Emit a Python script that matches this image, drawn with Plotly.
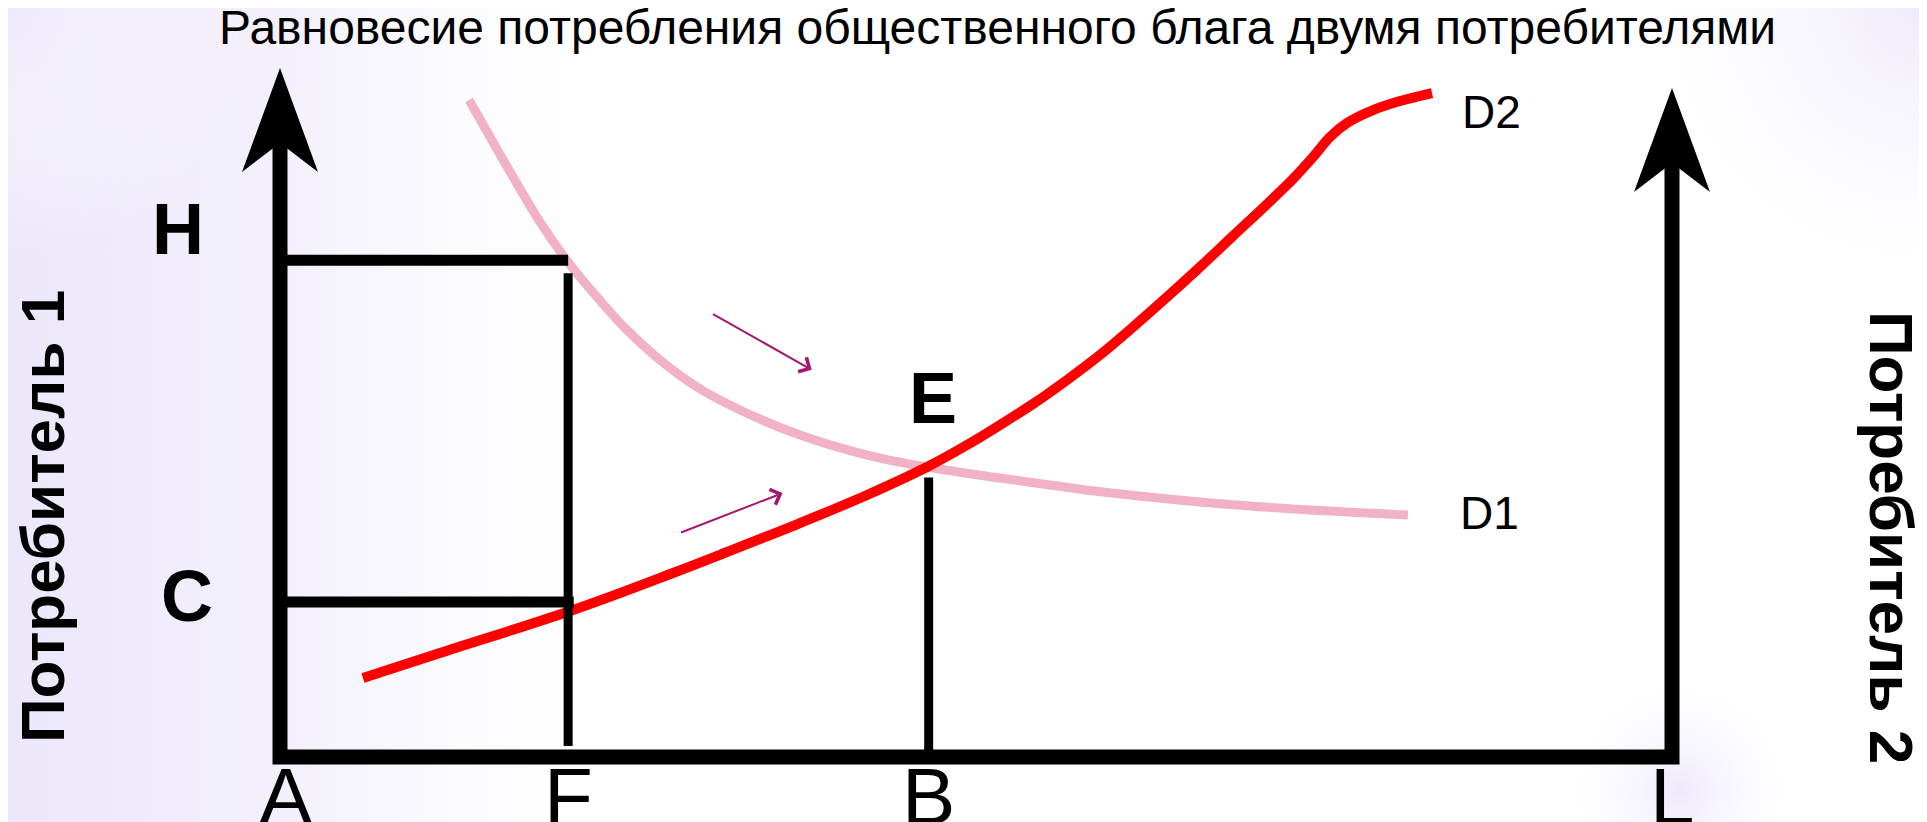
"""
Equilibrium of public good consumption by two consumers (Plotly sketch)
"""

import plotly.graph_objects as go

# --- data (units: quantity 0..100 from A to L, utility 0..100 up the left axis)
X_NAMES = ["A", "F", "B", "L"]
X_VALUES = [0, 20.7, 46.6, 100]

LEVEL_NAMES = ["H", "C"]
LEVEL_VALUES = [72.1, 22.5]

LEFT_AXIS_TOP = 100.0
RIGHT_AXIS_TOP = 97.1

# D1 - decreasing (pink), D2 - increasing (red)
D1_X = [13.58, 15.09, 16.74, 18.68, 20.69, 22.77, 24.93, 27.30, 29.96, 33.05, 37.36,
        42.17, 46.48, 51.72, 55.32, 59.12, 68.68, 81.03]
D1_Y = [95.36, 89.99, 84.18, 77.65, 71.84, 66.76, 61.97, 57.62, 53.70, 50.36, 46.73,
        43.83, 42.09, 40.49, 39.48, 38.46, 36.57, 35.12]

D2_X = [5.96, 11.49, 21.05, 28.23, 32.11, 37.36, 42.17, 46.48, 49.35, 51.72, 54.09,
        56.54, 58.91, 61.28, 63.72, 66.09, 68.46, 70.91, 72.77, 74.21, 75.43, 76.65,
        78.52, 80.46, 82.76]
D2_Y = [11.47, 15.09, 21.34, 26.71, 29.75, 33.96, 38.03, 42.09, 45.28, 48.19, 51.23,
        54.72, 58.35, 62.41, 66.76, 71.12, 75.62, 80.26, 83.89, 87.08, 89.99, 92.02,
        93.90, 95.21, 96.37]

E_X = 46.5
E_Y = 42.0

# small arrows showing movement towards E
MOVE_X0 = [31.0, 28.7]
MOVE_Y0 = [64.4, 32.5]
MOVE_X1 = [38.2, 36.1]
MOVE_Y1 = [56.2, 38.3]

TITLE = "Равновесие потребления общественного блага двумя потребителями"
LEFT_TITLE = "Потребитель 1"
RIGHT_TITLE = "Потребитель 2"

# --- page geometry
W, H = 1927, 822
BODY = 8                          # default page margin around the plot div
PX_X, PX_Y = 13.92, 6.89          # pixels per unit
ORIGIN_PX = (280 - BODY, 757 - BODY)
X_RANGE = [-ORIGIN_PX[0] / PX_X, (W - ORIGIN_PX[0]) / PX_X]
Y_RANGE = [-(H - ORIGIN_PX[1]) / PX_Y, ORIGIN_PX[1] / PX_Y]

FONT = "Liberation Sans, Arial, sans-serif"
BLACK = "#000000"


def px_x(p):
    return p / PX_X


def px_y(p):
    return p / PX_Y


def page_x(p):
    return (p - BODY) / W


def page_y(p):
    return 1 - (p - BODY) / H


def arrow_head(x, tip):
    # notched arrow head, sizes in pixels
    length, notch, half = px_y(104), px_y(75), px_x(38)
    xs = [x, x + half, x, x - half, x]
    ys = [tip, tip - length, tip - notch, tip - length, tip]
    return xs, ys, tip - notch


fig = go.Figure()

# soft lavender background
fig.add_trace(go.Scatter(
    x=[X_RANGE[0], px_x(380), px_x(380), X_RANGE[0], X_RANGE[0]],
    y=[Y_RANGE[0], Y_RANGE[0], Y_RANGE[1], Y_RANGE[1], Y_RANGE[0]],
    mode="lines", line=dict(width=0), fill="toself",
    fillgradient=dict(type="horizontal", colorscale=[
        [0, "rgb(236,231,250)"], [0.45, "rgb(244,241,252)"], [1, "rgba(255,255,255,0)"]]),
    hoverinfo="skip", showlegend=False))

for cx, cy, r in [(1680, 790, 130), (1927, 0, 330), (0, 0, 260)]:
    x0 = px_x(cx - r - BODY) - px_x(ORIGIN_PX[0])
    x1 = px_x(cx + r - BODY) - px_x(ORIGIN_PX[0])
    y0 = px_y(ORIGIN_PX[1] - (cy - BODY) - r)
    y1 = px_y(ORIGIN_PX[1] - (cy - BODY) + r)
    fig.add_trace(go.Scatter(
        x=[x0, x1, x1, x0, x0], y=[y0, y0, y1, y1, y0],
        mode="lines", line=dict(width=0), fill="toself",
        fillgradient=dict(type="radial", colorscale=[
            [0, "rgba(238,233,250,1)"], [1, "rgba(255,255,255,0)"]]),
        hoverinfo="skip", showlegend=False))

# D1 and D2 curves
fig.add_trace(go.Scatter(x=D1_X, y=D1_Y, mode="lines",
                         line=dict(color="#F2B2C6", width=9, shape="spline", smoothing=1),
                         hoverinfo="skip", showlegend=False))
fig.add_trace(go.Scatter(x=D2_X, y=D2_Y, mode="lines",
                         line=dict(color="#FF0000", width=10, shape="spline", smoothing=1),
                         hoverinfo="skip", showlegend=False))

# guide lines H, C, F, B
h_level, c_level = LEVEL_VALUES
f_x, b_x = X_VALUES[1], X_VALUES[2]
fig.add_trace(go.Scatter(x=[0, f_x], y=[h_level, h_level], mode="lines",
                         line=dict(color=BLACK, width=11), hoverinfo="skip", showlegend=False))
fig.add_trace(go.Scatter(x=[0, f_x + 0.4], y=[c_level, c_level], mode="lines",
                         line=dict(color=BLACK, width=11), hoverinfo="skip", showlegend=False))
fig.add_trace(go.Scatter(x=[f_x, f_x], y=[px_y(11), h_level - px_y(13)], mode="lines",
                         line=dict(color=BLACK, width=9), hoverinfo="skip", showlegend=False))
fig.add_trace(go.Scatter(x=[b_x, b_x], y=[0, E_Y - px_y(10)], mode="lines",
                         line=dict(color=BLACK, width=9), hoverinfo="skip", showlegend=False))

# axes frame with arrow heads
lx, rx = X_VALUES[0], X_VALUES[-1]
lhx, lhy, l_notch = arrow_head(lx, LEFT_AXIS_TOP)
rhx, rhy, r_notch = arrow_head(rx, RIGHT_AXIS_TOP)
fig.add_trace(go.Scatter(x=[lx, lx, rx, rx], y=[l_notch, 0, 0, r_notch], mode="lines",
                         line=dict(color=BLACK, width=15), hoverinfo="skip", showlegend=False))
for hx, hy in [(lhx, lhy), (rhx, rhy)]:
    fig.add_trace(go.Scatter(x=hx, y=hy, mode="lines", line=dict(width=0, color=BLACK),
                             fill="toself", fillcolor=BLACK, hoverinfo="skip", showlegend=False))

annotations = []

# movement arrows
for x0, y0, x1, y1 in zip(MOVE_X0, MOVE_Y0, MOVE_X1, MOVE_Y1):
    annotations.append(dict(x=x1, y=y1, ax=x0, ay=y0, xref="x", yref="y", axref="x", ayref="y",
                            text="", showarrow=True, arrowhead=4, arrowsize=1.6,
                            arrowwidth=2, arrowcolor="#A3186E"))

# point labels along the quantity axis
for name, val in zip(X_NAMES, X_VALUES):
    annotations.append(dict(x=val, y=0, text=name, showarrow=False, xanchor="center",
                            yanchor="top", yshift=7, xshift=6 if name == "A" else 0,
                            font=dict(family=FONT, size=80, color=BLACK)))

# level labels
for name, val, xs, ys in zip(LEVEL_NAMES, LEVEL_VALUES, [-102, -93], [31, 6]):
    annotations.append(dict(x=0, y=val, text="<b>%s</b>" % name, showarrow=False,
                            xanchor="center", yanchor="middle", xshift=xs, yshift=ys,
                            font=dict(family=FONT, size=72, color=BLACK)))

annotations.append(dict(x=E_X, y=E_Y, text="<b>E</b>", showarrow=False, xanchor="center",
                        yanchor="middle", xshift=6, yshift=70,
                        font=dict(family=FONT, size=72, color=BLACK)))

annotations.append(dict(x=D2_X[-1], y=D2_Y[-1], text="D2", showarrow=False, xanchor="left",
                        yanchor="middle", xshift=28, yshift=-19,
                        font=dict(family=FONT, size=46, color=BLACK)))
annotations.append(dict(x=D1_X[-1], y=D1_Y[-1], text="D1", showarrow=False, xanchor="left",
                        yanchor="middle", xshift=50, yshift=2,
                        font=dict(family=FONT, size=46, color=BLACK)))

# titles
annotations.append(dict(x=page_x(998), y=page_y(28), xref="paper", yref="paper", text=TITLE,
                        showarrow=False, xanchor="center", yanchor="middle",
                        font=dict(family=FONT, size=48, color=BLACK)))
annotations.append(dict(x=page_x(42), y=page_y(517), xref="paper", yref="paper",
                        text="<b>%s</b>" % LEFT_TITLE, textangle=-90, showarrow=False,
                        xanchor="center", yanchor="middle",
                        font=dict(family=FONT, size=62, color=BLACK)))
annotations.append(dict(x=page_x(1892), y=page_y(537), xref="paper", yref="paper",
                        text="<b>%s</b>" % RIGHT_TITLE, textangle=90, showarrow=False,
                        xanchor="center", yanchor="middle",
                        font=dict(family=FONT, size=62, color=BLACK)))

fig.update_layout(
    width=W, height=H,
    margin=dict(l=0, r=0, t=0, b=0),
    paper_bgcolor="white", plot_bgcolor="white",
    xaxis=dict(range=X_RANGE, visible=False, fixedrange=True),
    yaxis=dict(range=Y_RANGE, visible=False, fixedrange=True),
    annotations=annotations,
    showlegend=False,
)

fig.write_html("out.html")
